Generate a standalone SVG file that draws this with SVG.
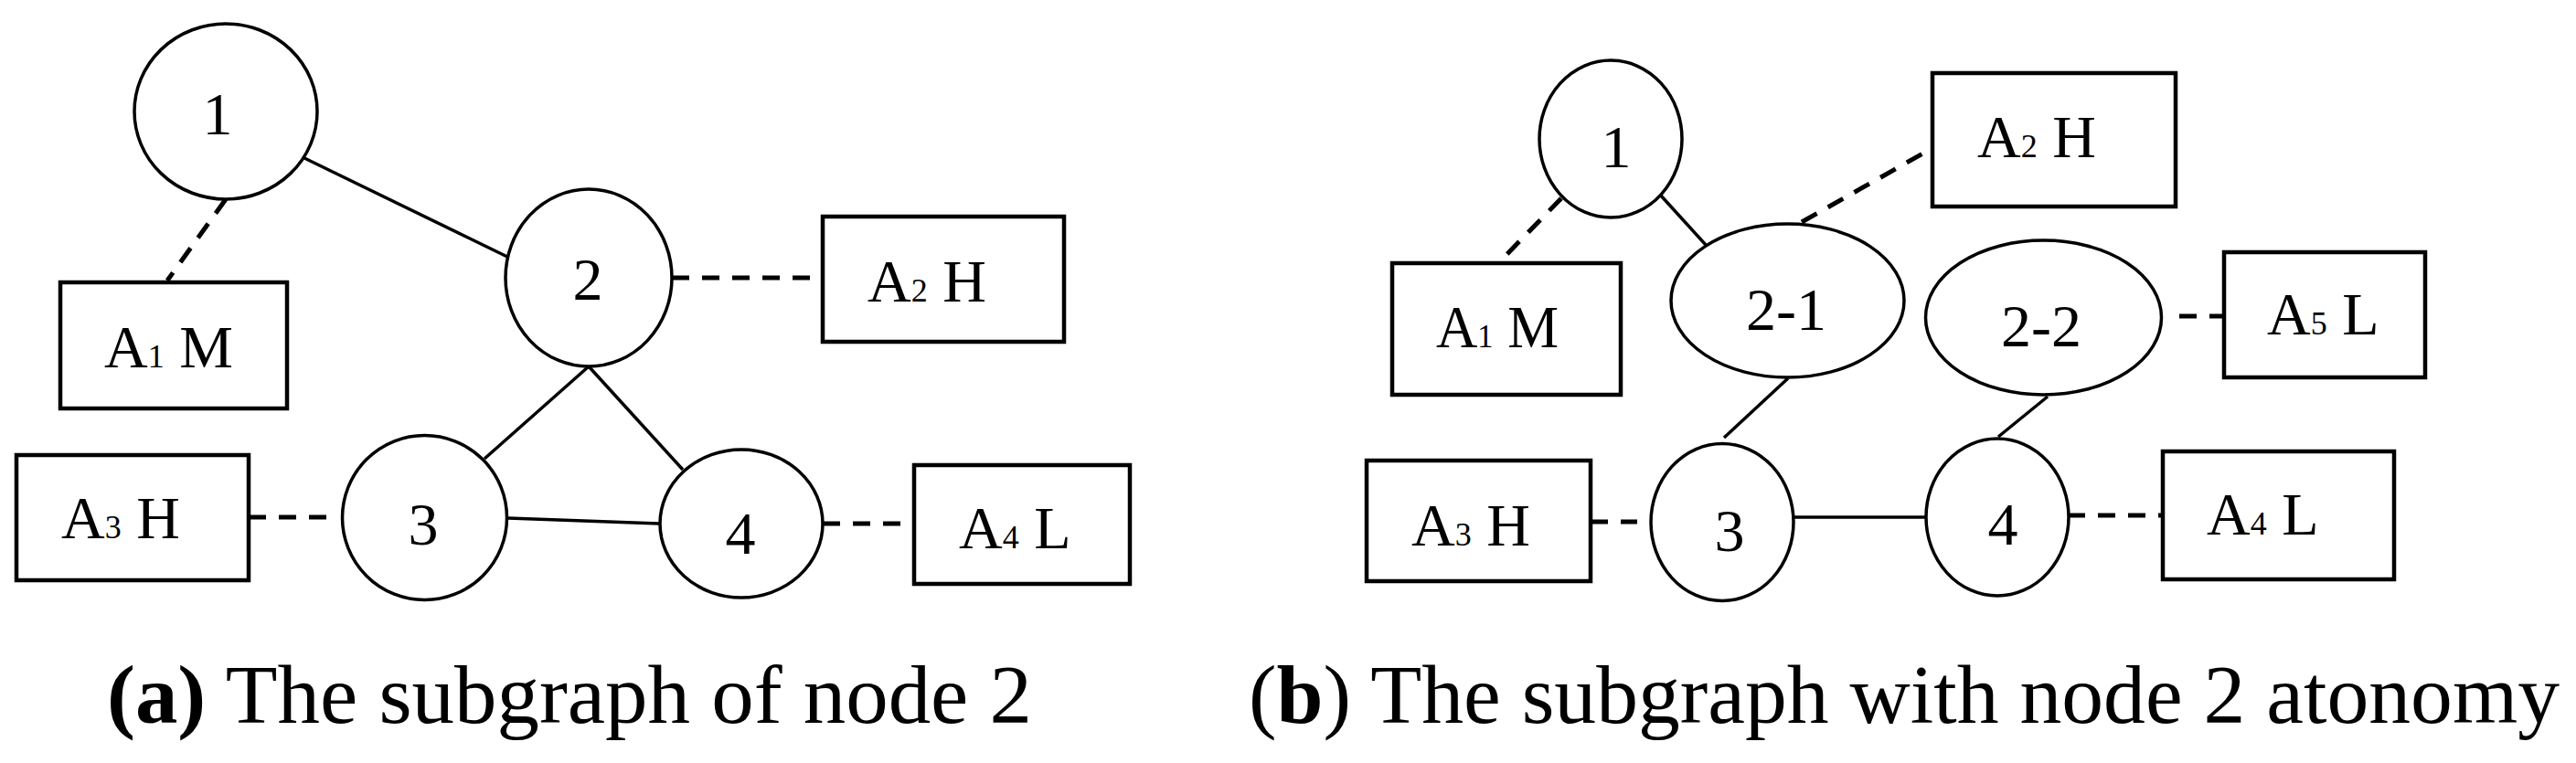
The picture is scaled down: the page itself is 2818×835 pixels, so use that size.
<svg xmlns="http://www.w3.org/2000/svg" width="2818" height="835" viewBox="0 0 2818 835">
<style>
.n{fill:#fff;stroke:#000;stroke-width:3.5}
.b{fill:#fff;stroke:#000;stroke-width:4.5}
.s{stroke:#000;stroke-width:3.5;fill:none}
.d{stroke:#000;stroke-width:5;fill:none;stroke-dasharray:19 14}
.t{font-family:"Liberation Serif","Times New Roman",serif;font-size:66px;fill:#000}
.c{text-anchor:middle}
.sub{font-size:36px}
.cap{font-family:"Liberation Serif","Times New Roman",serif;font-size:91px;fill:#000}
</style>
<rect width="2818" height="835" fill="#fff"/>
<g id="connectors">
<line class="s" x1="333" y1="173" x2="555" y2="281"/>
<line class="d" x1="247" y1="218" x2="183" y2="307"/>
<line class="d" x1="735" y1="304" x2="887" y2="304"/>
<line class="s" x1="644" y1="401" x2="530" y2="502"/>
<line class="s" x1="644" y1="401" x2="747" y2="514"/>
<line class="s" x1="556" y1="567" x2="721" y2="573"/>
<line class="d" x1="272" y1="566" x2="358" y2="566"/>
<line class="d" x1="900" y1="573" x2="986" y2="573"/>
<line class="d" x1="1708" y1="217" x2="1641" y2="286"/>
<line class="s" x1="1816" y1="213" x2="1866" y2="268"/>
<line class="d" x1="1971" y1="243" x2="2114" y2="162"/>
<line class="d" x1="2384" y1="346" x2="2433" y2="346"/>
<line class="s" x1="1956" y1="414" x2="1886" y2="479"/>
<line class="s" x1="2240" y1="434" x2="2186" y2="478"/>
<line class="s" x1="1962" y1="566" x2="2107" y2="566"/>
<line class="d" x1="1740" y1="571" x2="1791" y2="571"/>
<line class="d" x1="2262" y1="564" x2="2366" y2="564"/>
</g>
<g id="a-n1"><ellipse class="n" cx="247" cy="122" rx="100" ry="96"/><text class="t c" x="238" y="147">1</text></g>
<g id="a-n2"><ellipse class="n" cx="644" cy="304" rx="91" ry="97"/><text class="t c" x="643" y="328">2</text></g>
<g id="a-n3"><ellipse class="n" cx="464.5" cy="566.5" rx="90" ry="90"/><text class="t c" x="463" y="596">3</text></g>
<g id="a-n4"><ellipse class="n" cx="811" cy="573" rx="89" ry="81"/><text class="t c" x="810" y="606">4</text></g>
<g id="a-A1"><rect class="b" x="66" y="309" width="248" height="138"/><text class="t" x="114" y="402">A<tspan class="sub">1</tspan> M</text></g>
<g id="a-A2"><rect class="b" x="900" y="237" width="264" height="137"/><text class="t" x="949" y="330">A<tspan class="sub">2</tspan> H</text></g>
<g id="a-A3"><rect class="b" x="18" y="498" width="254" height="137"/><text class="t" x="67" y="589">A<tspan class="sub">3</tspan> H</text></g>
<g id="a-A4"><rect class="b" x="1000" y="509" width="236" height="130"/><text class="t" x="1049" y="600">A<tspan class="sub">4</tspan> L</text></g>
<g id="b-n1"><ellipse class="n" cx="1762" cy="152" rx="78" ry="86"/><text class="t c" x="1768" y="183">1</text></g>
<g id="b-n21"><ellipse class="n" cx="1955.5" cy="329" rx="127.5" ry="84"/><text class="t c" x="1954" y="361">2-1</text></g>
<g id="b-n22"><ellipse class="n" cx="2235.5" cy="347.5" rx="129" ry="84.5"/><text class="t c" x="2233" y="379">2-2</text></g>
<g id="b-n3"><ellipse class="n" cx="1884" cy="571.5" rx="78" ry="86"/><text class="t c" x="1892" y="603">3</text></g>
<g id="b-n4"><ellipse class="n" cx="2185" cy="566" rx="78" ry="86"/><text class="t c" x="2191" y="596">4</text></g>
<g id="b-A1"><rect class="b" x="1523" y="288" width="250" height="144"/><text class="t" x="1571" y="380" textLength="134" lengthAdjust="spacingAndGlyphs">A<tspan class="sub">1</tspan> M</text></g>
<g id="b-A2"><rect class="b" x="2114" y="80" width="266" height="146"/><text class="t" x="2163" y="172">A<tspan class="sub">2</tspan> H</text></g>
<g id="b-A3"><rect class="b" x="1495" y="504" width="245" height="132"/><text class="t" x="1544" y="597">A<tspan class="sub">3</tspan> H</text></g>
<g id="b-A5"><rect class="b" x="2433" y="276" width="220" height="137"/><text class="t" x="2480" y="366">A<tspan class="sub">5</tspan> L</text></g>
<g id="b-A4"><rect class="b" x="2366" y="494" width="253" height="140"/><text class="t" x="2414" y="585">A<tspan class="sub">4</tspan> L</text></g>
<g id="captions">
<text class="cap" x="117" y="791" textLength="1012" lengthAdjust="spacingAndGlyphs"><tspan font-weight="bold">(a)</tspan> The subgraph of node 2</text>
<text class="cap" x="1366" y="791" textLength="1434" lengthAdjust="spacingAndGlyphs">(<tspan font-weight="bold">b</tspan>) The subgraph with node 2 atonomy</text>
</g>
</svg>
